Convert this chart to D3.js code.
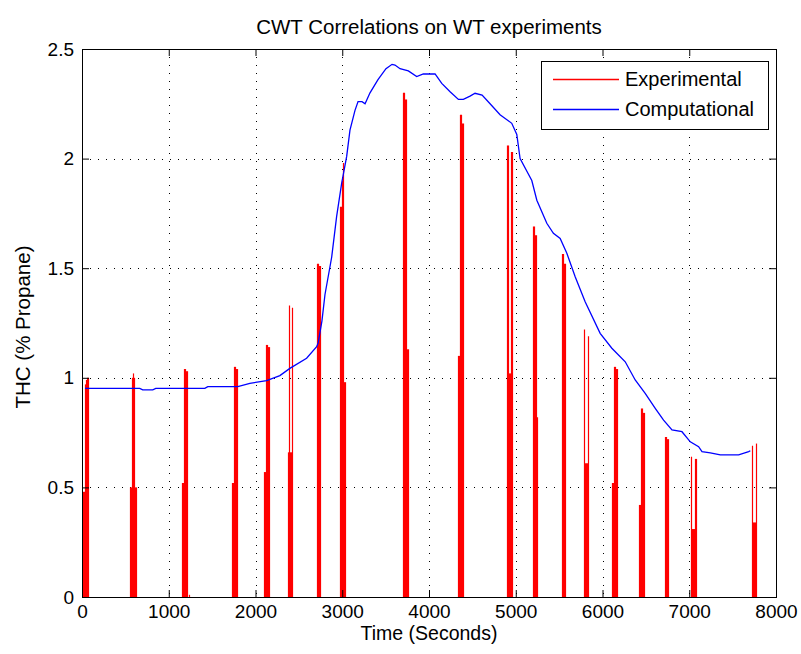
<!DOCTYPE html>
<html>
<head>
<meta charset="utf-8">
<script src="https://cdn.jsdelivr.net/npm/d3@7"></script>
<style>
  body { margin: 0; background: #fff; }
  svg text { font-family: Arial, "Liberation Sans", Helvetica, sans-serif; fill: #000; }
</style>
</head>
<body>
<svg id="chart"></svg>
<script>
// ---- data ----
const xTicks = [0, 1000, 2000, 3000, 4000, 5000, 6000, 7000, 8000];
const yTicks = [0, 0.5, 1, 1.5, 2, 2.5];
const seriesNames = ['Experimental', 'Computational'];

// experimental samples (each one drawn as a stem from 0)
const expTime = [
  8, 20, 31, 43, 54, 66,
  550, 562, 573, 585, 596, 608, 620,
  1150, 1162, 1173, 1185, 1196, 1208, 1237,
  1727, 1739, 1750, 1762, 1773, 1785,
  2096, 2108, 2119, 2131, 2142, 2154,
  2373, 2385, 2396, 2408, 2419,
  2708, 2719, 2731, 2742,
  2973, 2985, 2996, 3008, 3019, 3031,
  3700, 3712, 3723, 3735, 3746, 3758,
  4335, 4346, 4358, 4369, 4381, 4392,
  4900, 4912, 4923, 4935, 4946, 4958,
  5200, 5212, 5223, 5235, 5246,
  5535, 5546, 5558, 5569,
  5789, 5800, 5812, 5823, 5835,
  6108, 6119, 6131, 6142, 6154, 6165,
  6419, 6431, 6442, 6454, 6465, 6477,
  6719, 6731, 6742, 6754,
  7023, 7035, 7046, 7058, 7069, 7081,
  7727, 7739, 7750, 7762, 7773
];
const expValue = [
  0.48, 0.48, 0.97, 0.99, 1.00, 1.00,
  0.50, 0.50, 1.00, 1.02, 1.00, 0.50, 0.50,
  0.52, 0.52, 1.04, 1.04, 1.03, 1.03, 0.01,
  0.52, 0.52, 1.05, 1.05, 1.04, 1.04,
  0.57, 0.57, 1.15, 1.15, 1.14, 1.14,
  0.66, 1.33, 0.66, 0.66, 1.32,
  1.52, 1.52, 1.51, 1.51,
  1.78, 1.78, 1.90, 1.98, 0.98, 0.98,
  2.30, 2.30, 2.27, 2.27, 1.13, 1.13,
  1.10, 1.10, 2.20, 2.20, 2.16, 2.16,
  2.06, 2.06, 1.02, 1.02, 2.03, 2.03,
  1.69, 1.69, 1.65, 1.65, 0.82,
  1.565, 1.565, 1.52, 1.52,
  1.22, 0.61, 0.61, 0.61, 1.19,
  0.52, 0.52, 1.05, 1.05, 1.04, 1.04,
  0.42, 0.42, 0.86, 0.86, 0.84, 0.84,
  0.73, 0.73, 0.72, 0.72,
  0.64, 0.31, 0.31, 0.31, 0.63, 0.63,
  0.69, 0.34, 0.34, 0.34, 0.70
];

// computational curve
const compTime = [
  35, 666, 700, 816, 850, 1416, 1450, 1796, 1935, 2128, 2281, 2396, 2589, 2705,
  2723, 2766, 2801, 2878, 2935, 2993, 3051, 3089, 3147, 3182, 3228, 3263, 3320,
  3412, 3504, 3574, 3608, 3666, 3762, 3858, 3935, 4070, 4147, 4243, 4339, 4396,
  4473, 4531, 4612, 4704, 4819, 4954, 5012, 5050, 5185, 5243, 5358, 5434, 5512,
  5589, 5685, 5800, 5973, 6108, 6262, 6377, 6492, 6608, 6704, 6801, 6916, 7012,
  7108, 7147, 7243, 7358, 7569, 7685, 7704
];
const compValue = [
  0.952, 0.952, 0.945, 0.945, 0.952, 0.952, 0.96, 0.96, 0.975, 0.987, 1.01, 1.043, 1.089, 1.142,
  1.16, 1.26, 1.38, 1.55, 1.735, 1.887, 2.01, 2.13, 2.22, 2.26, 2.26, 2.25, 2.30,
  2.36, 2.41, 2.43, 2.427, 2.41, 2.40, 2.374, 2.386, 2.386, 2.343, 2.305, 2.27, 2.27,
  2.285, 2.298, 2.29, 2.25, 2.20, 2.161, 2.11, 2.00, 1.90, 1.81, 1.705, 1.659, 1.636,
  1.568, 1.461, 1.347, 1.203, 1.135, 1.073, 0.99, 0.929, 0.861, 0.807, 0.762, 0.754, 0.708,
  0.686, 0.663, 0.658, 0.648, 0.648, 0.663, 0.667
];

// ---- chart ----
const config = {
  containerWidth: 801,
  containerHeight: 654,
  margin: { top: 49, right: 25, bottom: 57, left: 82 },
  tickFontSize: 19,
  labelFontSize: 20,
  tickLength: 7
};

const width = config.containerWidth - config.margin.left - config.margin.right;
const height = config.containerHeight - config.margin.top - config.margin.bottom;

const xScale = d3.scaleLinear().domain([0, 8000]).range([0, width]);
const yScale = d3.scaleLinear().domain([0, 2.5]).range([height, 0]);
const px = v => Math.round(v) + 0.5;

const svg = d3.select('#chart')
    .attr('width', config.containerWidth)
    .attr('height', config.containerHeight);

svg.append('rect')
    .attr('width', config.containerWidth)
    .attr('height', config.containerHeight)
    .attr('fill', '#fff');

const chart = svg.append('g')
    .attr('transform', `translate(${config.margin.left},${config.margin.top})`);

// dotted grid
const grid = chart.append('g').attr('class', 'grid');

grid.selectAll('line.vgrid')
  .data(xTicks.slice(1, -1))
  .join('line')
    .attr('class', 'vgrid')
    .attr('x1', d => px(xScale(d))).attr('x2', d => px(xScale(d)))
    .attr('y1', 0).attr('y2', height)
    .attr('stroke', '#000').attr('stroke-width', 1)
    .attr('stroke-dasharray', '1,7');

grid.selectAll('line.hgrid')
  .data(yTicks.slice(1, -1))
  .join('line')
    .attr('class', 'hgrid')
    .attr('x1', 0).attr('x2', width)
    .attr('y1', d => px(yScale(d))).attr('y2', d => px(yScale(d)))
    .attr('stroke', '#000').attr('stroke-width', 1)
    .attr('stroke-dasharray', '1,7');

// experimental stems
chart.append('g')
  .selectAll('line')
  .data(expTime.map((t, i) => ({ t: t, v: expValue[i] })))
  .join('line')
    .attr('x1', d => px(xScale(d.t))).attr('x2', d => px(xScale(d.t)))
    .attr('y1', yScale(0)).attr('y2', d => yScale(d.v))
    .attr('stroke', '#ff0000').attr('stroke-width', 1.2);

// computational line
const compData = compTime.map((t, i) => ({ t: t, v: compValue[i] }));
chart.append('path')
    .datum(compData)
    .attr('fill', 'none')
    .attr('stroke', '#0000ff')
    .attr('stroke-width', 1.3)
    .attr('d', d3.line().x(d => xScale(d.t)).y(d => yScale(d.v)));

// axes box with inward ticks on all four sides
const xAxisBottom = d3.axisBottom(xScale).tickValues(xTicks).tickSizeInner(-config.tickLength).tickSizeOuter(0).tickPadding(7.5).tickFormat(d3.format('d'));
const xAxisTop = d3.axisTop(xScale).tickValues(xTicks).tickSizeInner(-config.tickLength).tickSizeOuter(0).tickFormat('');
const yAxisLeft = d3.axisLeft(yScale).tickValues(yTicks).tickSizeInner(-config.tickLength).tickSizeOuter(0).tickPadding(8).tickFormat(d => d);
const yAxisRight = d3.axisRight(yScale).tickValues(yTicks).tickSizeInner(-config.tickLength).tickSizeOuter(0).tickFormat('');

const styleAxis = g => {
  g.selectAll('.domain').remove();
  g.selectAll('.tick line').attr('stroke', '#000');
  g.selectAll('.tick text')
    .style('font-size', config.tickFontSize + 'px')
    .style('font-family', 'Arial, "Liberation Sans", sans-serif')
    .attr('fill', '#000');
};

chart.append('g').attr('transform', `translate(0,${height})`).call(xAxisBottom).call(styleAxis);
chart.append('g').call(xAxisTop).call(styleAxis);
chart.append('g').call(yAxisLeft).call(styleAxis);
chart.append('g').attr('transform', `translate(${width},0)`).call(yAxisRight).call(styleAxis);

chart.append('rect')
    .attr('x', 0.5).attr('y', 0.5)
    .attr('width', width).attr('height', height)
    .attr('fill', 'none').attr('stroke', '#000').attr('stroke-width', 1);

// titles
svg.append('text')
    .attr('x', config.margin.left + width / 2)
    .attr('y', 34)
    .attr('text-anchor', 'middle')
    .style('font-size', '20.5px')
    .text('CWT Correlations on WT experiments');

svg.append('text')
    .attr('x', config.margin.left + width / 2)
    .attr('y', 639.5)
    .attr('text-anchor', 'middle')
    .style('font-size', '19.5px')
    .text('Time (Seconds)');

svg.append('text')
    .attr('transform', `translate(30,${config.margin.top + height / 2 + 4}) rotate(-90)`)
    .attr('text-anchor', 'middle')
    .style('font-size', '20.5px')
    .text('THC (% Propane)');

// legend
const legend = svg.append('g').attr('transform', 'translate(541,61)');
legend.append('rect')
    .attr('x', 0.5).attr('y', 0.5)
    .attr('width', 227).attr('height', 68)
    .attr('fill', '#fff').attr('stroke', '#000').attr('stroke-width', 1);

const legendColors = ['#ff0000', '#0000ff'];
const legendRows = legend.selectAll('g.row')
  .data(seriesNames)
  .join('g')
    .attr('class', 'row')
    .attr('transform', (d, i) => `translate(0,${18 + i * 30})`);

legendRows.append('line')
    .attr('x1', 12).attr('x2', 78)
    .attr('y1', 0.5).attr('y2', 0.5)
    .attr('stroke', (d, i) => legendColors[i])
    .attr('stroke-width', 1.3);

legendRows.append('text')
    .attr('x', 84)
    .attr('dy', '0.35em')
    .style('font-size', config.labelFontSize + 'px')
    .text(d => d);
</script>
</body>
</html>
